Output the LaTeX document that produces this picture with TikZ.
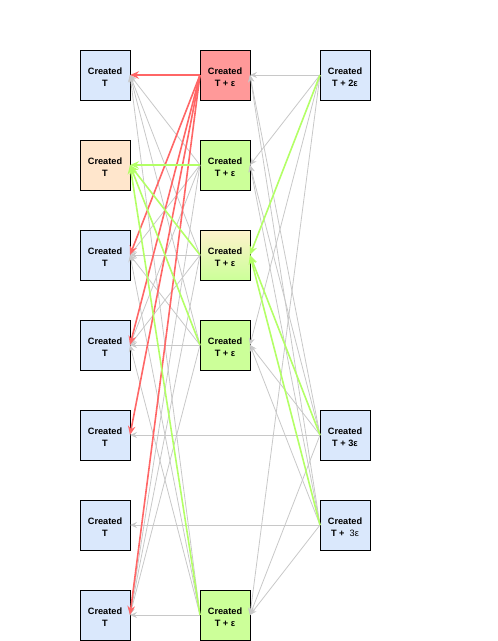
\documentclass[tikz,border=0pt]{standalone}
\usepackage{fontspec}
\setmainfont{Liberation Sans}
\usetikzlibrary{arrows.meta}
\definecolor{bluef}{HTML}{DAE8FC}
\definecolor{orangef}{HTML}{FFE6CC}
\definecolor{redf}{HTML}{FF9999}
\definecolor{greenf}{HTML}{CCFF99}
\definecolor{yellowf}{HTML}{FFF2CC}
\definecolor{edgegray}{HTML}{C8C8C8}
\definecolor{edgered}{HTML}{FF6666}
\definecolor{edgegreen}{HTML}{B3FF66}
\newcommand{\tpad}{\rule{0pt}{11pt}}
\begin{document}
\begin{tikzpicture}[x=1pt,y=-1pt,
  box/.style={draw=black,line width=1pt,minimum width=50pt,minimum height=50pt,
    inner sep=0pt,outer sep=0pt,align=center,anchor=north west,
    font=\bfseries\fontsize{9.2}{11.6}\selectfont},
  grayedge/.style={draw=edgegray,line width=0.8pt,
    -{Stealth[length=7pt,width=6pt,inset=2.5pt]}},
  rededge/.style={draw=edgered,line width=1.6pt,
    -{Stealth[length=9pt,width=7.5pt,inset=3pt]}},
  greenedge/.style={draw=edgegreen,line width=1.6pt,
    -{Stealth[length=9pt,width=7.5pt,inset=3pt]}}]
\useasboundingbox (0,0) rectangle (498,641);
% left column
\node[box,fill=bluef] (L0) at (80,50) {\tpad Created\\T};
\node[box,fill=orangef] (L1) at (80,140) {\tpad Created\\T};
\node[box,fill=bluef] (L2) at (80,230) {\tpad Created\\T};
\node[box,fill=bluef] (L3) at (80,320) {\tpad Created\\T};
\node[box,fill=bluef] (L4) at (80,410) {\tpad Created\\T};
\node[box,fill=bluef] (L5) at (80,500) {\tpad Created\\T};
\node[box,fill=bluef] (L6) at (80,590) {\tpad Created\\T};
% centre column
\node[box,fill=redf] (C0) at (200,50) {\tpad Created\\T + ε};
\node[box,fill=greenf] (C1) at (200,140) {\tpad Created\\T + ε};
\node[box,top color=yellowf,bottom color=greenf] (C2) at (200,230) {\tpad Created\\T + ε};
\node[box,fill=greenf] (C3) at (200,320) {\tpad Created\\T + ε};
\node[box,fill=greenf] (C6) at (200,590) {\tpad Created\\T + ε};
% right column
\node[box,fill=bluef] (R0) at (320,50) {\tpad Created\\T + 2ε};
\node[box,fill=bluef] (R4) at (320,410) {\tpad Created\\T + 3ε};
\node[box,fill=bluef] (R5) at (320,500) {\tpad Created\\T +\ \ {\fontseries{m}\selectfont 3ε}};
% gray edges
\foreach \c in {C1,C2,C3,C6}{
  \foreach \l in {L0,L2,L3,L6}{
    \draw[grayedge] (\c.west) -- (\l.east);
  }
}
\foreach \r in {R0,R4,R5}{
  \foreach \c in {C0,C1,C3,C6}{
    \draw[grayedge] (\r.west) -- (\c.east);
  }
}
\draw[grayedge] (R4.west) -- (L4.east);
\draw[grayedge] (R5.west) -- (L5.east);
% red edges
\foreach \l in {L0,L2,L3,L4,L6}{
  \draw[rededge] (C0.west) -- (\l.east);
}
% green edges
\foreach \c in {C1,C2,C3,C6}{
  \draw[greenedge] (\c.west) -- (L1.east);
}
\foreach \r in {R0,R4,R5}{
  \draw[greenedge] (\r.west) -- (C2.east);
}
\end{tikzpicture}
\end{document}
